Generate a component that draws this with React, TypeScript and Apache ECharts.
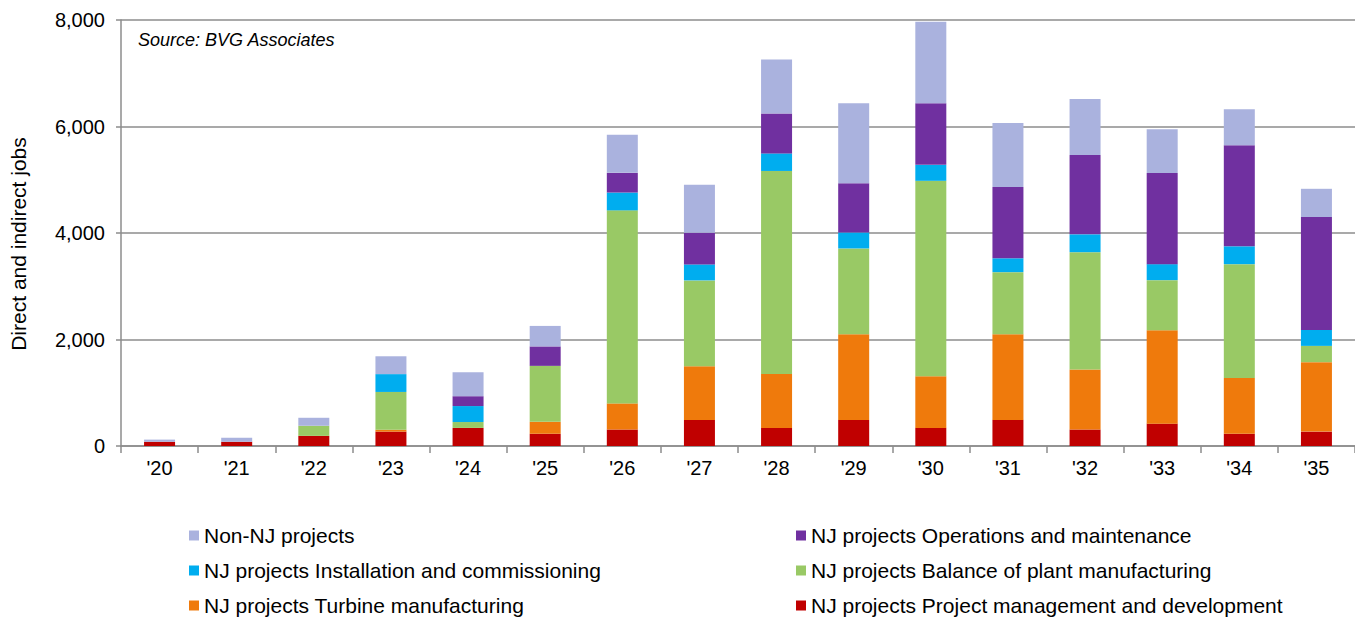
import React, { useEffect, useRef } from "react";
import * as echarts from "echarts";

const categories = ["'20", "'21", "'22", "'23", "'24", "'25", "'26", "'27", "'28", "'29", "'30", "'31", "'32", "'33", "'34", "'35"];

const projectMgmt = [80, 80, 190, 270, 340, 230, 310, 490, 340, 490, 340, 490, 310, 420, 230, 270];
const turbineMfg = [0, 0, 0, 35, 0, 225, 490, 1010, 1010, 1610, 970, 1610, 1125, 1755, 1045, 1305];
const balanceOfPlant = [0, 0, 190, 710, 110, 1050, 3625, 1610, 3815, 1610, 3670, 1165, 2205, 940, 2140, 305];
const installation = [0, 0, 0, 335, 300, 0, 335, 300, 330, 300, 300, 260, 335, 300, 335, 300];
const operations = [0, 0, 0, 0, 185, 365, 370, 595, 750, 925, 1155, 1340, 1490, 1710, 1900, 2120];
const nonNJ = [40, 75, 150, 335, 450, 385, 715, 900, 1015, 1500, 1530, 1200, 1050, 825, 675, 530];

const yTicks = [0, 2000, 4000, 6000, 8000];

const FONT = "'Liberation Sans', Arial, sans-serif";

const seriesDefs = [
  { name: "NJ projects Project management and development", data: projectMgmt, color: "#C00000" },
  { name: "NJ projects Turbine manufacturing", data: turbineMfg, color: "#EF7A0C" },
  { name: "NJ projects Balance of plant manufacturing", data: balanceOfPlant, color: "#99C965" },
  { name: "NJ projects Installation and commissioning", data: installation, color: "#00ADEF" },
  { name: "NJ projects Operations and maintenance", data: operations, color: "#7030A0" },
  { name: "Non-NJ projects", data: nonNJ, color: "#AAB2DE" },
];

export default function App() {
  const ref = useRef<HTMLDivElement>(null);
  useEffect(() => {
    if (!ref.current) return;
    const chart = echarts.init(ref.current, null, { renderer: "svg" });
    const legendText = { color: "#000", fontSize: 21, fontFamily: FONT };
    const legendBase = {
      orient: "vertical",
      top: 525,
      height: 94,
      padding: 0,
      itemWidth: 10,
      itemHeight: 10,
      itemGap: 14,
      icon: "rect",
      textStyle: legendText,
    };
    chart.setOption({
      animation: false,
      backgroundColor: "#fff",
      grid: { left: 121, top: 20, width: 1234, height: 426 },
      xAxis: {
        type: "category",
        data: categories,
        boundaryGap: true,
        axisLine: { lineStyle: { color: "#8c8c8c", width: 1.5 } },
        axisTick: { show: true, length: 7, lineStyle: { color: "#8c8c8c", width: 1.5 } },
        axisLabel: { color: "#000", fontSize: 20, fontFamily: FONT, margin: 12 },
      },
      yAxis: {
        type: "value",
        min: yTicks[0],
        max: yTicks[yTicks.length - 1],
        interval: 2000,
        axisLine: { show: true, lineStyle: { color: "#8c8c8c", width: 1.5 } },
        axisTick: { show: true, length: 5, lineStyle: { color: "#8c8c8c", width: 1.5 } },
        splitLine: { show: true, lineStyle: { color: "#8c8c8c", width: 1.5 } },
        axisLabel: {
          color: "#000",
          fontSize: 20,
          fontFamily: FONT,
          margin: 16,
          formatter: (v: number) => v.toLocaleString("en-US"),
        },
      },
      legend: [
        {
          ...legendBase,
          left: 189,
          data: [
            "Non-NJ projects",
            "NJ projects Installation and commissioning",
            "NJ projects Turbine manufacturing",
          ],
        },
        {
          ...legendBase,
          left: 796,
          data: [
            "NJ projects Operations and maintenance",
            "NJ projects Balance of plant manufacturing",
            "NJ projects Project management and development",
          ],
        },
      ],
      graphic: [
        {
          type: "text",
          left: 138,
          top: 31,
          style: {
            text: "Source: BVG Associates",
            fontSize: 18,
            fontStyle: "italic",
            fontFamily: FONT,
            fill: "#000",
          },
        },
        {
          type: "text",
          x: 18,
          y: 244,
          rotation: Math.PI / 2,
          style: {
            text: "Direct and indirect jobs",
            fontSize: 21,
            fontFamily: FONT,
            fill: "#000",
            align: "center",
            verticalAlign: "middle",
          },
        },
      ],
      series: seriesDefs.map((s) => ({
        type: "bar",
        name: s.name,
        stack: "total",
        data: s.data,
        barWidth: 31,
        itemStyle: { color: s.color },
      })),
    });
    return () => chart.dispose();
  }, []);
  return (
    <div
      ref={ref}
      style={{ position: "fixed", left: 0, top: 0, width: 1355, height: 619 }}
    />
  );
}
